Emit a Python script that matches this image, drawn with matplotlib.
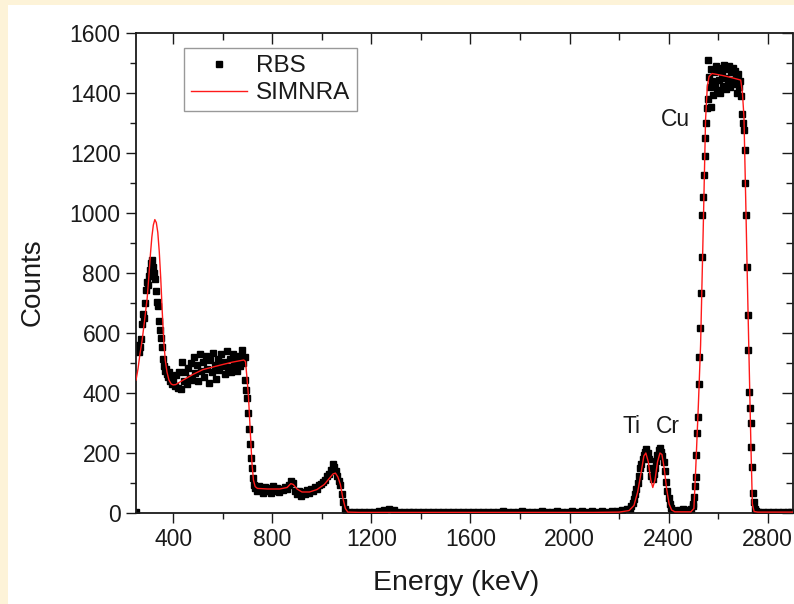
import numpy as np
import matplotlib
matplotlib.use("Agg")
import matplotlib.pyplot as plt
from matplotlib.patches import Rectangle

plt.rcParams['font.family'] = ['Liberation Sans', 'DejaVu Sans']

# ---------------- data ----------------
rbs_energy = [
    252, 256, 260, 264, 268, 272, 276, 280, 284, 288, 292, 296, 300, 304, 308, 312, 316, 320,
    324, 328, 332, 336, 340, 344, 348, 352, 356, 360, 364, 368, 372, 376, 380, 384, 388, 392, 396,
    400, 406, 412, 418, 424, 430, 436, 442, 448, 454, 460, 466, 472, 478, 484, 490, 496, 502,
    508, 514, 520, 526, 532, 538, 544, 550, 556, 562, 568, 574, 580, 586, 592, 598, 604, 610,
    616, 622, 628, 634, 640, 646, 652, 658, 664, 670, 676, 682, 688,
    692, 696, 700, 704, 708, 712, 716, 720, 724, 728,
    732, 740, 748, 756, 764, 772, 780, 788, 796, 804, 812, 820, 828, 836, 844, 852, 860, 868,
    876, 884, 892, 900, 908, 916, 924, 932, 940, 948, 956, 964, 972, 980, 988, 996, 1004, 1012,
    1020, 1028, 1036, 1044, 1050, 1056, 1062, 1068, 1074, 1080, 1086, 1092, 1098,
    1110, 1130, 1150, 1170, 1190, 1210, 1230, 1250, 1270, 1290, 1310, 1330, 1350, 1370, 1390,
    1410, 1430, 1450, 1470, 1490, 1510, 1530, 1550, 1570, 1590, 1610, 1630, 1650, 1670, 1690,
    1710, 1730, 1750, 1770, 1790, 1810, 1830, 1850, 1870, 1890, 1910, 1930, 1950, 1970, 1990,
    2010, 2030, 2050, 2070, 2090, 2110, 2130, 2150, 2170, 2190, 2210, 2230,
    2245, 2250, 2255, 2260, 2265, 2270, 2275, 2280, 2285, 2290, 2295, 2300, 2305, 2310, 2315,
    2320, 2325, 2330, 2335, 2340, 2345, 2350, 2355, 2360, 2365, 2370, 2375, 2380, 2385, 2390,
    2395, 2400, 2405, 2410, 2415, 2420,
    2430, 2440, 2450, 2460, 2470, 2480, 2490, 2497,
    2500, 2503, 2506, 2509, 2512, 2515, 2518, 2521, 2524, 2527, 2530, 2533, 2536, 2539, 2542,
    2545, 2548, 2551, 2554, 2557,
    2560, 2564, 2568, 2570, 2572, 2576, 2580, 2584, 2588, 2592, 2596, 2600, 2604, 2608, 2612,
    2616, 2620, 2624, 2628, 2632, 2636, 2640, 2644, 2648, 2652, 2656, 2660, 2664, 2668, 2672,
    2676, 2680, 2684, 2688, 2692,
    2696, 2700, 2704, 2707, 2710, 2713, 2716, 2719, 2722, 2725, 2728, 2731, 2734, 2737, 2740,
    2743, 2747, 2752,
    2760, 2780, 2800, 2820, 2840, 2860, 2880, 2895,
]
rbs_counts = [
    5, 545, 560, 538, 555, 580, 630, 665, 650, 700, 745, 770, 760, 790, 810, 835, 845, 820,
    800, 780, 740, 705, 690, 640, 610, 585, 555, 515, 490, 475, 480, 462, 455, 470, 440, 450, 430,
    445, 425, 460, 418, 470, 412, 505, 440, 470, 430, 485, 450, 500, 445, 520, 468, 495, 440,
    530, 475, 505, 455, 525, 480, 432, 510, 470, 535, 495, 448, 515, 478, 530, 490, 505, 465,
    540, 488, 515, 470, 530, 495, 510, 475, 525, 490, 545, 500, 520,
    445, 410, 385, 335, 280, 230, 185, 150, 118, 95,
    85, 72, 90, 78, 68, 88, 75, 82, 66, 90, 74, 85, 70, 80, 78, 88, 80, 92,
    108, 100, 72, 62, 75, 58, 70, 64, 76, 68, 80, 74, 86, 80, 92, 96, 105, 110,
    122, 130, 145, 162, 155, 140, 125, 108, 92, 65, 38, 15, 5,
    3, 2, 4, 3, 5, 3, 6, 10, 14, 9, 4, 3, 5, 2, 4,
    3, 2, 4, 5, 3, 2, 4, 3, 5, 2, 3, 4, 3, 2, 5,
    4, 6, 3, 5, 4, 6, 3, 5, 4, 6, 5, 4, 6, 3, 5,
    6, 4, 7, 5, 6, 4, 7, 5, 8, 6, 9, 12,
    15, 22, 35, 48, 62, 80, 100, 125, 150, 165, 180, 195, 205, 215, 200,
    180, 150, 125, 115, 130, 150, 175, 195, 210, 218, 205, 190, 170, 140, 105,
    75, 50, 30, 18, 10, 6,
    8, 10, 7, 12, 9, 11, 14, 30,
    25, 55, 90, 121, 193, 266, 321, 430, 521, 616, 732, 855, 993, 1054, 1127,
    1190, 1250, 1300, 1350, 1380,
    1510, 1455, 1420, 1355, 1480, 1440, 1395, 1470, 1430, 1490, 1410, 1475, 1445, 1400, 1485,
    1460, 1425, 1495, 1450, 1415, 1480, 1440, 1490, 1420, 1470, 1445, 1485, 1430, 1475, 1455,
    1400, 1465, 1420, 1440, 1390,
    1330, 1300, 1277, 1210, 1100, 993, 820, 660, 543, 403, 350, 300, 220, 153, 67,
    37, 15, 6,
    4, 3, 5, 3, 4, 3, 5, 3,
]

sim_energy = [
    250, 258, 266, 275, 285, 295, 302, 308, 314, 320, 326, 332, 338, 344, 350, 356, 362, 368,
    375, 383, 392, 400, 410, 440, 480, 520, 562, 600, 640, 685, 692, 698, 704, 711, 718, 724,
    731, 740, 780, 830, 860, 875, 885, 900, 920, 950, 980, 1010, 1030, 1045, 1055, 1065, 1075,
    1085, 1095, 1105, 1150, 1300, 1500, 1700, 1900, 2100, 2200, 2240, 2260, 2275, 2290, 2300,
    2308, 2318, 2328, 2336, 2345, 2355, 2365, 2373, 2382, 2392, 2402, 2412, 2425, 2490, 2502,
    2510, 2520, 2529, 2540, 2549, 2556, 2563, 2575, 2620, 2660, 2691, 2698, 2704, 2711, 2718,
    2725, 2732, 2738, 2745, 2760, 2900,
]
sim_counts = [
    443, 480, 530, 577, 645, 715, 790, 860, 920, 960, 978, 968, 935, 870, 780, 670, 575, 510,
    470, 443, 430, 427, 428, 443, 462, 478, 487, 495, 503, 510, 505, 450, 388, 277, 167, 110,
    88, 82, 80, 80, 85, 98, 95, 80, 70, 70, 78, 95, 115, 130, 133, 120, 95,
    50, 15, 3, 2, 2, 2, 2, 2, 2, 3, 8, 25, 70, 140, 190,
    200, 170, 110, 85, 110, 170, 200, 195, 150, 80, 30, 10, 4, 4, 15,
    160, 360, 560, 960, 1310, 1420, 1455, 1465, 1458, 1450, 1443, 1400, 1320, 1050, 767,
    500, 230, 30, 5, 3, 3,
]

x_ticks = [400, 800, 1200, 1600, 2000, 2400, 2800]
x_minor = [600, 1000, 1400, 1800, 2200, 2600]
y_ticks = [0, 200, 400, 600, 800, 1000, 1200, 1400, 1600]
y_minor = [100, 300, 500, 700, 900, 1100, 1300, 1500]

peak_labels = ["Cu", "Ti", "Cr"]
peak_label_x = [2427, 2250, 2395]
peak_label_y = [1310, 287, 287]

# ---------------- figure ----------------
W, H = 794, 604
fig = plt.figure(figsize=(W / 100, H / 100), dpi=100, facecolor='#fdf3d8')
fig.patches.append(Rectangle((8 / W, 0), 1, (H - 5) / H, transform=fig.transFigure,
                             facecolor='white', edgecolor='none', zorder=-10))

left, right, top, bottom = 136, 792.5, 33, 513
ax = fig.add_axes([left / W, 1 - bottom / H, (right - left) / W, (bottom - top) / H])
ax.set_facecolor('white')

txt = '#1a1a1a'
ax.plot(rbs_energy, rbs_counts, linestyle='none', marker='s', markersize=4.9,
        color='black', label='RBS', zorder=2)
ax.plot(sim_energy, sim_counts, color='#ff1a1a', linewidth=1.0, label='SIMNRA', zorder=3)

ax.set_xlim(250, 2900)
ax.set_ylim(0, 1600)
ax.set_xticks(x_ticks)
ax.set_yticks(y_ticks)
ax.set_xticks(x_minor, minor=True)
ax.set_yticks(y_minor, minor=True)

for s in ax.spines.values():
    s.set_linewidth(1.3)
    s.set_color(txt)

ax.tick_params(axis='both', which='major', direction='out', length=7, width=1.0,
               labelsize=16.5, colors=txt, pad=4, top=False, right=False)
ax.tick_params(axis='both', which='minor', direction='out', length=4, width=1.0,
               colors=txt, top=False, right=False)

sx = ax.secondary_xaxis('top')
sx.set_xticks(x_ticks)
sx.set_xticks(x_minor, minor=True)
sx.tick_params(which='major', direction='in', length=8, width=1.0, labeltop=False, colors=txt)
sx.tick_params(which='minor', direction='in', length=5, width=1.0, colors=txt)
sx.spines['top'].set_visible(False)

sy = ax.secondary_yaxis('right')
sy.set_yticks(y_ticks)
sy.set_yticks(y_minor, minor=True)
sy.tick_params(which='major', direction='in', length=8, width=1.0, labelright=False, colors=txt)
sy.tick_params(which='minor', direction='in', length=5, width=1.0, colors=txt)
sy.spines['right'].set_visible(False)

ax.set_xlabel('Energy (keV)', fontsize=20.5, color=txt)
ax.xaxis.set_label_coords(0.488, -0.119)
ax.set_ylabel('Counts', fontsize=20, color=txt)
ax.yaxis.set_label_coords(-0.138, 0.48)

for lab, lx, ly in zip(peak_labels, peak_label_x, peak_label_y):
    ax.text(lx, ly, lab, fontsize=16.5, color=txt, ha='center', va='center')

leg = ax.legend(loc='upper left', bbox_to_anchor=(0.073, 0.969), borderaxespad=0,
                fontsize=17.5, numpoints=1, handlelength=2.3, handletextpad=0.35,
                labelspacing=0.2, borderpad=0.3, fancybox=False, framealpha=1,
                edgecolor='#999999')
leg.get_frame().set_linewidth(1.0)
for t in leg.get_texts():
    t.set_color(txt)

fig.savefig('out.png', dpi=100, facecolor=fig.get_facecolor())
